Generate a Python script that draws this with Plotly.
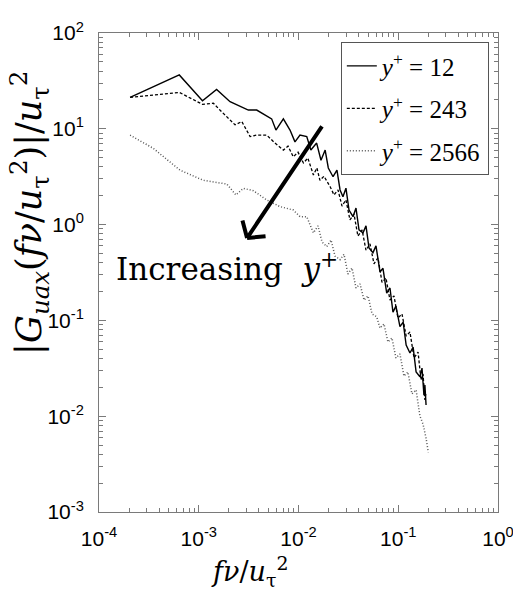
import numpy as np
import plotly.graph_objects as go

# ---- data ----
x_y12 = [2.05e-4, 6.38e-4, 1.09e-3, 1.51e-3, 2.06e-3, 3.14e-3, 3.81e-3, 4.62e-3, 5.38e-3, 5.94e-3,
         7.05e-3, 8.22e-3, 9.22e-3, 1.035e-2, 1.21e-2, 1.33e-2, 1.52e-2, 1.68e-2, 1.85e-2, 1.99e-2,
         2.22e-2, 2.43e-2, 2.61e-2, 2.79e-2, 2.99e-2, 3.21e-2, 3.52e-2, 3.77e-2, 4.04e-2, 4.43e-2,
         4.75e-2, 5.09e-2, 5.58e-2, 5.98e-2, 6.56e-2, 7.03e-2, 7.66e-2, 8.26e-2, 8.85e-2, 9.48e-2,
         0.104, 0.112, 0.120, 0.131, 0.141, 0.151, 0.165, 0.173, 0.181, 0.185, 0.190]
g_y12 = [21.3, 36.5, 19.6, 25.8, 19.2, 15.7, 15.7, 13.9, 12.7, 9.7,
         12.7, 9.7, 7.3, 8.6, 8.3, 6.0, 7.1, 4.7, 6.0, 3.9,
         3.16, 3.7, 2.3, 1.95, 2.4, 1.42, 1.21, 1.49, 0.88, 0.82,
         0.97, 0.57, 0.51, 0.60, 0.32, 0.35, 0.193, 0.218, 0.122, 0.141,
         0.086, 0.096, 0.0553, 0.0457, 0.0527, 0.0289, 0.0258, 0.0318, 0.0166, 0.0212, 0.0131]

x_y243 = [2.05e-4, 6.38e-4, 1.09e-3, 1.40e-3, 1.63e-3, 2.31e-3, 2.70e-3, 3.27e-3, 3.81e-3, 4.80e-3,
          5.81e-3, 7.05e-3, 7.85e-3, 8.87e-3, 9.89e-3, 1.12e-2, 1.24e-2, 1.41e-2, 1.53e-2, 1.64e-2,
          1.80e-2, 2.07e-2, 2.27e-2, 2.49e-2, 2.73e-2, 2.99e-2, 3.28e-2, 3.60e-2, 3.94e-2, 4.34e-2,
          4.75e-2, 5.21e-2, 5.71e-2, 6.27e-2, 6.87e-2, 7.53e-2, 8.26e-2, 9.06e-2, 9.93e-2, 0.109,
          0.120, 0.131, 0.144, 0.158, 0.169, 0.177, 0.185, 0.190]
g_y243 = [21.3, 24.0, 18.0, 18.5, 15.7, 11.0, 11.9, 8.3, 8.6, 8.6,
          7.1, 6.0, 6.6, 5.1, 5.7, 4.4, 4.95, 3.3, 3.9, 2.9,
          3.2, 2.5, 2.04, 2.3, 1.56, 1.81, 1.12, 1.29, 0.76, 0.88,
          0.54, 0.63, 0.39, 0.45, 0.25, 0.277, 0.163, 0.180, 0.106, 0.117,
          0.0687, 0.0757, 0.0405, 0.0468, 0.0239, 0.0276, 0.0148, 0.0179]

x_y2566 = [2.05e-4, 3.50e-4, 6.49e-4, 1.11e-3, 1.91e-3, 2.36e-3, 2.80e-3, 3.52e-3, 4.80e-3, 6.53e-3,
           8.87e-3, 1.035e-2, 1.21e-2, 1.41e-2, 1.57e-2, 1.72e-2, 1.92e-2, 2.12e-2, 2.32e-2, 2.61e-2,
           2.86e-2, 3.13e-2, 3.44e-2, 3.77e-2, 4.14e-2, 4.54e-2, 4.98e-2, 5.46e-2, 6.08e-2, 6.56e-2,
           7.19e-2, 7.88e-2, 8.65e-2, 9.48e-2, 0.104, 0.114, 0.125, 0.137, 0.151, 0.165,
           0.177, 0.190, 0.200]
g_y2566 = [8.6, 6.25, 3.7, 2.9, 2.65, 2.04, 2.39, 2.26, 1.81, 1.54,
           1.42, 1.21, 1.21, 0.82, 0.97, 0.66, 0.59, 0.69, 0.47, 0.43,
           0.49, 0.305, 0.352, 0.218, 0.240, 0.163, 0.180, 0.117, 0.109, 0.083,
           0.092, 0.0596, 0.0655, 0.0405, 0.0446, 0.0263, 0.0289, 0.0171, 0.0188, 0.0100,
           0.0083, 0.0059, 0.0042]

series_names = ["<i>y</i><sup>+</sup> = 12", "<i>y</i><sup>+</sup> = 243", "<i>y</i><sup>+</sup> = 2566"]

x_tickvals = [1e-4, 1e-3, 1e-2, 1e-1, 1]
x_ticktext = ["10<sup>-4</sup>", "10<sup>-3</sup>", "10<sup>-2</sup>", "10<sup>-1</sup>", "10<sup>0</sup>"]
y_tickvals = [1e-3, 1e-2, 1e-1, 1, 10, 100]
y_ticktext = ["10<sup>-3</sup>", "10<sup>-2</sup>", "10<sup>-1</sup>", "10<sup>0</sup>", "10<sup>1</sup>", "10<sup>2</sup>"]

arrow_tail = (0.0176, 10.97)
arrow_head = (3.05e-3, 0.724)
label_pos = (1.41e-4, 0.36)

# ---- figure ----
fig = go.Figure()
fig.add_trace(go.Scatter(x=x_y12, y=g_y12, mode="lines", name=series_names[0], legendgroup="a",
                         line=dict(color="black", width=1.4)))
fig.add_trace(go.Scatter(x=x_y243, y=g_y243, mode="lines", name=series_names[1], legendgroup="b",
                         line=dict(color="black", width=1.3, dash="3px,2px")))
fig.add_trace(go.Scatter(x=x_y2566, y=g_y2566, mode="lines", name=series_names[2], legendgroup="c",
                         line=dict(color="#555555", width=1.5, dash="1px,2px")))

minor_x = [m * 10.0 ** e for e in range(-4, 0) for m in range(2, 10)]
minor_y = [m * 10.0 ** e for e in range(-3, 2) for m in range(2, 10)]

axis_common = dict(showline=True, linecolor="#7a7a7a", linewidth=1, mirror="ticks",
                   ticks="inside", ticklen=7, tickcolor="#7a7a7a", showgrid=False, zeroline=False,
                   automargin=False, ticklabeloverflow="allow",
                   tickfont=dict(family="Liberation Sans Narrow, Liberation Sans, Arial", size=21, color="black"))

fig.update_xaxes(type="log", range=[-4, 0], tickmode="array", tickvals=x_tickvals, ticktext=x_ticktext,
                 minor=dict(tickvals=minor_x, ticks="inside", ticklen=4, tickcolor="#7a7a7a"),
                 ticklabelstandoff=8, **axis_common)
fig.update_yaxes(type="log", range=[-3, 2], tickmode="array", tickvals=y_tickvals, ticktext=y_ticktext,
                 minor=dict(tickvals=minor_y, ticks="inside", ticklen=4, tickcolor="#7a7a7a"),
                 ticklabelstandoff=10, **axis_common)

# arrow (main shaft + open V head)
hx, hy = np.log10(arrow_head[0]), np.log10(arrow_head[1])
fig.add_annotation(x=hx, y=hy, ax=np.log10(arrow_tail[0]), ay=np.log10(arrow_tail[1]),
                   xref="x", yref="y", axref="x", ayref="y", text="", showarrow=True,
                   arrowhead=0, arrowwidth=4, arrowcolor="black")
for dx, dy in [(-5, -19), (20, -2)]:
    fig.add_annotation(x=hx, y=hy, ax=dx, ay=dy, xref="x", yref="y", text="", showarrow=True,
                       arrowhead=0, arrowwidth=4, arrowcolor="black")

fig.add_annotation(x=np.log10(label_pos[0]), y=np.log10(label_pos[1]), xref="x", yref="y",
                   text="Increasing  <i>y</i><sup>+</sup>", showarrow=False, xanchor="left", yanchor="middle",
                   font=dict(family="DejaVu Serif", size=31, color="black"))

# axis titles
fig.add_annotation(x=0.376, y=-0.125, xref="paper", yref="paper", showarrow=False,
                   text="<i>fν</i>/<i>u</i><sub>τ</sub><sup>2</sup>",
                   font=dict(family="DejaVu Serif", size=27, color="black"),
                   xanchor="center", yanchor="middle")
fig.add_annotation(x=-0.176, y=0.624, xref="paper", yref="paper", showarrow=False, textangle=-90,
                   text="|<i>G</i><sub><i>uax</i></sub>(<i>fν</i>/<i>u</i><sub>τ</sub><sup>2</sup>)|/<i>u</i><sub>τ</sub><sup>2</sup>",
                   font=dict(family="DejaVu Serif", size=35, color="black"),
                   xanchor="center", yanchor="middle")

fig.update_layout(
    width=513, height=600,
    margin=dict(l=99, r=15, t=33, b=88, autoexpand=False),
    paper_bgcolor="white", plot_bgcolor="white",
    showlegend=True,
    legend=dict(x=0.977, y=0.981, xanchor="right", yanchor="top",
                bordercolor="#555555", borderwidth=1, bgcolor="white",
                itemwidth=30, tracegroupgap=7,
                font=dict(family="Liberation Serif", size=25, color="black")),
)

fig.write_html("out.html")
